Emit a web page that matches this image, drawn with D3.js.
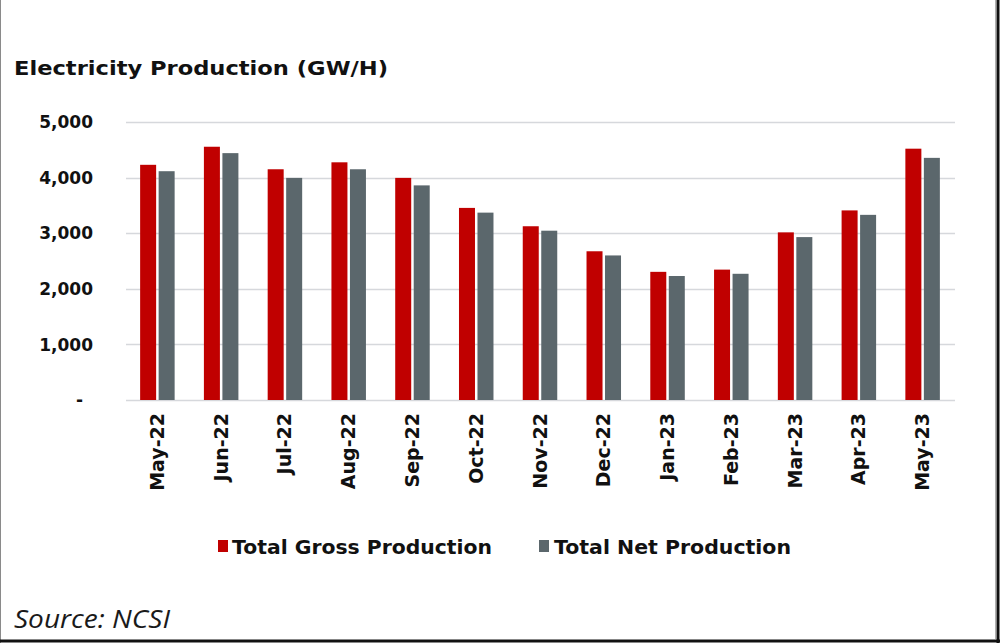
<!DOCTYPE html>
<html>
<head>
<meta charset="utf-8">
<script src="https://cdn.jsdelivr.net/npm/d3@7"></script>
<style>
  html, body { margin: 0; padding: 0; background: #fff; }
  svg { display: block; }
</style>
</head>
<body>
<div id="chart"></div>
<script>
// chart data
const months = ["May-22", "Jun-22", "Jul-22", "Aug-22", "Sep-22", "Oct-22", "Nov-22",
  "Dec-22", "Jan-23", "Feb-23", "Mar-23", "Apr-23", "May-23"];
const grossProduction = [4230, 4555, 4150, 4275, 3995, 3455, 3125, 2675, 2305, 2345, 3015, 3410, 4520];
const netProduction = [4115, 4440, 3995, 4150, 3860, 3370, 3045, 2600, 2230, 2270, 2930, 3330, 4355];
const seriesNames = ["Total Gross Production", "Total Net Production"];
const seriesColors = ["#c00000", "#5b676c"];
const yTicks = [0, 1000, 2000, 3000, 4000, 5000];

window.onload = function () {
  const width = 1000;
  const height = 643;
  const plotLeft = 126;
  const plotRight = 955;
  const plotTop = 122;
  const plotBottom = 400;

  const svg = d3.select("#chart")
    .append("svg")
    .attr("width", width)
    .attr("height", height);

  // frame like the scanned image
  svg.append("line").attr("x1", 0.5).attr("x2", 0.5).attr("y1", 0).attr("y2", height)
    .attr("stroke", "#8a8a8a").attr("stroke-width", 1);
  svg.append("line").attr("x1", 995.5).attr("x2", 995.5).attr("y1", 0).attr("y2", 639)
    .attr("stroke", "#b0b0b0").attr("stroke-width", 1);
  svg.append("line").attr("x1", 998).attr("x2", 998).attr("y1", 0).attr("y2", height)
    .attr("stroke", "#111").attr("stroke-width", 3);
  svg.append("line").attr("x1", 0).attr("x2", width).attr("y1", 641).attr("y2", 641)
    .attr("stroke", "#111").attr("stroke-width", 3);

  const x = d3.scaleBand()
    .domain(months)
    .range([plotLeft, plotRight]);

  const y = d3.scaleLinear()
    .domain([0, 5000])
    .range([plotBottom, plotTop]);

  // gridlines
  svg.append("g")
    .selectAll("line")
    .data(yTicks)
    .join("line")
    .attr("x1", plotLeft)
    .attr("x2", plotRight)
    .attr("y1", d => Math.round(y(d)) + 0.5)
    .attr("y2", d => Math.round(y(d)) + 0.5)
    .attr("stroke", "#d6d8dc")
    .attr("stroke-width", 1.5);

  // y labels
  svg.append("g")
    .selectAll("text")
    .data(yTicks)
    .join("text")
    .attr("x", d => d === 0 ? 83 : 93)
    .attr("y", d => y(d))
    .attr("dy", "0.36em")
    .attr("text-anchor", "end")
    .attr("font-family", "DejaVu Sans")
    .attr("font-weight", "bold")
    .attr("font-size", 17)
    .attr("fill", "#111")
    .text(d => d === 0 ? "-" : d3.format(",")(d));

  // bars
  const barW = 16;
  const gap = 2.5;
  const series = [grossProduction, netProduction];
  series.forEach((vals, s) => {
    svg.append("g")
      .selectAll("rect")
      .data(vals)
      .join("rect")
      .attr("x", (d, i) => x(months[i]) + x.bandwidth() / 2 - barW - gap / 2 + s * (barW + gap) - 0.5)
      .attr("y", d => y(d))
      .attr("width", barW)
      .attr("height", d => y(0) - y(d))
      .attr("fill", seriesColors[s]);
  });

  // x labels, rotated
  svg.append("g")
    .selectAll("text")
    .data(months)
    .join("text")
    .attr("transform", d => `translate(${x(d) + x.bandwidth() / 2 + 6},413) rotate(-90)`)
    .attr("text-anchor", "end")
    .attr("font-family", "DejaVu Sans")
    .attr("font-weight", "bold")
    .attr("font-size", 19)
    .attr("fill", "#111")
    .text(d => d);

  // title
  svg.append("text")
    .attr("x", 14)
    .attr("y", 75)
    .attr("font-family", "DejaVu Sans")
    .attr("font-weight", "bold")
    .attr("font-size", 19)
    .attr("textLength", 374)
    .attr("lengthAdjust", "spacingAndGlyphs")
    .attr("fill", "#111")
    .text("Electricity Production (GW/H)");

  // legend
  const legendItems = [
    { name: seriesNames[0], color: seriesColors[0], sx: 218, tx: 232, w: 260 },
    { name: seriesNames[1], color: seriesColors[1], sx: 539, tx: 554, w: 237 }
  ];
  const legend = svg.append("g");
  legend.selectAll("rect")
    .data(legendItems)
    .join("rect")
    .attr("x", d => d.sx)
    .attr("y", 540)
    .attr("width", 10)
    .attr("height", 12)
    .attr("fill", d => d.color);
  legend.selectAll("text")
    .data(legendItems)
    .join("text")
    .attr("x", d => d.tx)
    .attr("y", 554)
    .attr("font-family", "DejaVu Sans")
    .attr("font-weight", "bold")
    .attr("font-size", 19)
    .attr("textLength", d => d.w)
    .attr("lengthAdjust", "spacingAndGlyphs")
    .attr("fill", "#111")
    .text(d => d.name);

  // source
  svg.append("text")
    .attr("x", 14)
    .attr("y", 628)
    .attr("font-family", "Open Sans")
    .attr("font-style", "italic")
    .attr("font-size", 25)
    .attr("textLength", 156)
    .attr("lengthAdjust", "spacingAndGlyphs")
    .attr("fill", "#1a1a1a")
    .text("Source: NCSI");
};
</script>
</body>
</html>
